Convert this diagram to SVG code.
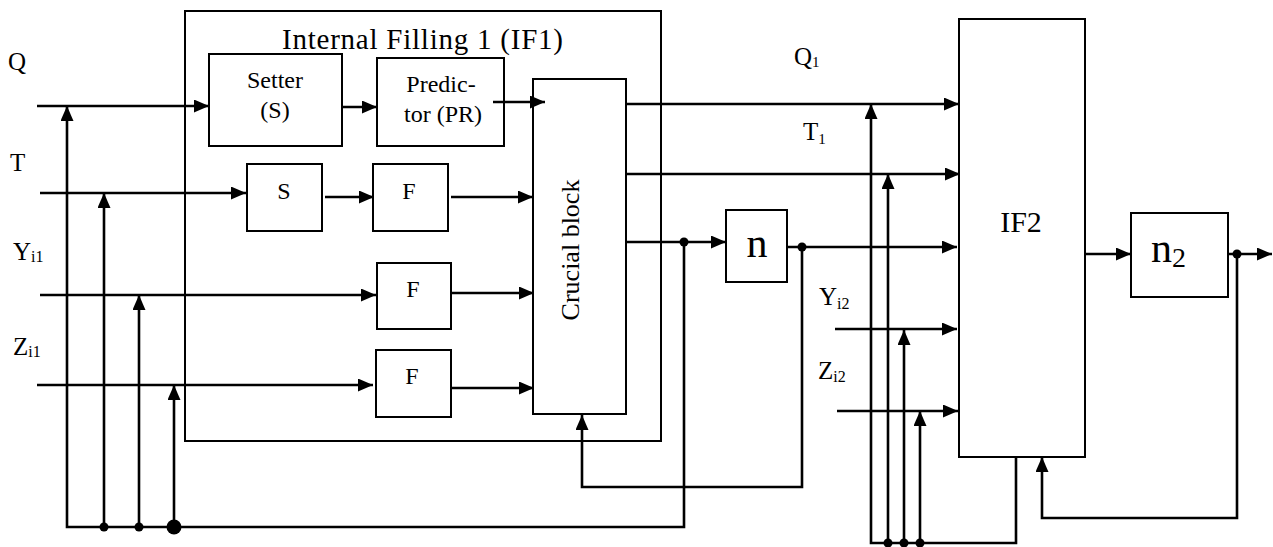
<svg xmlns="http://www.w3.org/2000/svg" width="1273" height="547" viewBox="0 0 1273 547">
<style>
.box{fill:#fff;stroke:#000;stroke-width:2}
.frame{fill:none;stroke:#000;stroke-width:2}
.ln{fill:none;stroke:#000;stroke-width:2.6}
.arr{marker-end:url(#ah)}
.t{font-family:"Liberation Serif","Times New Roman",serif;fill:#000}
.dot{fill:#000}
</style>
<defs>
<marker id="ah" markerUnits="userSpaceOnUse" markerWidth="16" markerHeight="14" refX="15" refY="6.5" orient="auto">
<path d="M0,0 L15,6.5 L0,13 z" fill="#000"/>
</marker>
</defs>
<rect width="1273" height="547" fill="#fff"/>
<g id="labels">
<text class="t" x="8" y="70" font-size="25">Q</text>
<text class="t" x="10" y="171" font-size="25">T</text>
<text class="t" x="13" y="260" font-size="25">Y<tspan font-size="16" dy="2">i1</tspan></text>
<text class="t" x="13" y="355" font-size="25">Z<tspan font-size="16" dy="2">i1</tspan></text>
<text class="t" x="794" y="65" font-size="25">Q<tspan font-size="15" dy="2">1</tspan></text>
<text class="t" x="803" y="140" font-size="25">T<tspan font-size="15" dy="4">1</tspan></text>
<text class="t" x="819" y="305" font-size="25">Y<tspan font-size="16" dy="4">i2</tspan></text>
<text class="t" x="818" y="379" font-size="25">Z<tspan font-size="16" dy="3">i2</tspan></text>
</g>
<g id="if1">
<rect class="frame" x="185" y="11" width="476" height="430"/>
<text class="t" x="282" y="49" font-size="29" textLength="281" lengthAdjust="spacing">Internal Filling 1 (IF1)</text>
</g>
<g id="setter">
<rect class="box" x="209" y="54" width="133" height="92"/>
<text class="t" x="275" y="88" font-size="24" text-anchor="middle">Setter</text>
<text class="t" x="275" y="118" font-size="24" text-anchor="middle">(S)</text>
</g>
<g id="predictor">
<rect class="box" x="377" y="58" width="127" height="88"/>
<text class="t" x="441" y="92" font-size="24" text-anchor="middle">Predic-</text>
<text class="t" x="443" y="122" font-size="24" text-anchor="middle">tor (PR)</text>
</g>
<g id="s">
<rect class="box" x="247" y="164" width="75" height="67"/>
<text class="t" x="284" y="199" font-size="24" text-anchor="middle">S</text>
</g>
<g id="f1">
<rect class="box" x="373" y="164" width="75" height="67"/>
<text class="t" x="409" y="199" font-size="24" text-anchor="middle">F</text>
</g>
<g id="f2">
<rect class="box" x="377" y="263" width="74" height="66"/>
<text class="t" x="413" y="297" font-size="24" text-anchor="middle">F</text>
</g>
<g id="f3">
<rect class="box" x="376" y="350" width="75" height="67"/>
<text class="t" x="412" y="384" font-size="24" text-anchor="middle">F</text>
</g>
<g id="crucial">
<rect class="box" x="533" y="79" width="93" height="335"/>
<text class="t" font-size="26" text-anchor="middle" transform="translate(579,250) rotate(-90)">Crucial block</text>
</g>
<g id="n">
<rect class="box" x="726" y="210" width="61" height="72"/>
<text class="t" x="757" y="257" font-size="42" text-anchor="middle">n</text>
</g>
<g id="if2">
<rect class="box" x="959" y="19" width="126" height="438"/>
<text class="t" x="1021" y="232" font-size="30" text-anchor="middle">IF2</text>
</g>
<g id="n2">
<rect class="box" x="1131" y="213" width="97" height="84"/>
<text class="t" x="1151" y="262" font-size="42">n<tspan font-size="28" dy="5">2</tspan></text>
</g>
<g id="connectors">
<path class="ln arr" d="M37,106 H209"/>
<path class="ln arr" d="M40,193 H246"/>
<path class="ln arr" d="M40,295 H376"/>
<path class="ln arr" d="M37,385 H373"/>
<path class="ln arr" d="M342,107 H377"/>
<path class="ln arr" d="M493,102 H545"/>
<path class="ln arr" d="M325,197 H374"/>
<path class="ln arr" d="M451,197 H533"/>
<path class="ln arr" d="M451,293 H534"/>
<path class="ln arr" d="M451,388 H534"/>
<path class="ln arr" d="M626,104 H959"/>
<path class="ln arr" d="M626,174 H960"/>
<path class="ln arr" d="M626,242 H726"/>
<path class="ln arr" d="M787,247 H957"/>
<path class="ln arr" d="M684,242 V527 H67 V106"/>
<path class="ln arr" d="M104,527 V193"/>
<path class="ln arr" d="M139,527 V295"/>
<path class="ln arr" d="M174,527 V385"/>
<path class="ln arr" d="M802,247 V487 H582 V415"/>
<path class="ln arr" d="M1016,457 V543 H871 V104"/>
<path class="ln arr" d="M888,543 V174"/>
<path class="ln arr" d="M904,543 V330"/>
<path class="ln arr" d="M920,543 V411"/>
<path class="ln arr" d="M835,329 H957"/>
<path class="ln arr" d="M837,411 H958"/>
<path class="ln arr" d="M1085,254 H1131"/>
<path class="ln arr" d="M1228,254 H1272"/>
<path class="ln arr" d="M1237,254 V518 H1042 V457"/>
<circle class="dot" cx="684" cy="242" r="4.5"/>
<circle class="dot" cx="802" cy="247" r="4.5"/>
<circle class="dot" cx="104" cy="527" r="4.5"/>
<circle class="dot" cx="139" cy="527" r="4.5"/>
<circle class="dot" cx="174" cy="527" r="7.5"/>
<circle class="dot" cx="888" cy="543" r="4.5"/>
<circle class="dot" cx="904" cy="543" r="4.5"/>
<circle class="dot" cx="920" cy="543" r="4.5"/>
<circle class="dot" cx="1237" cy="254" r="4.5"/>
</g>
</svg>
